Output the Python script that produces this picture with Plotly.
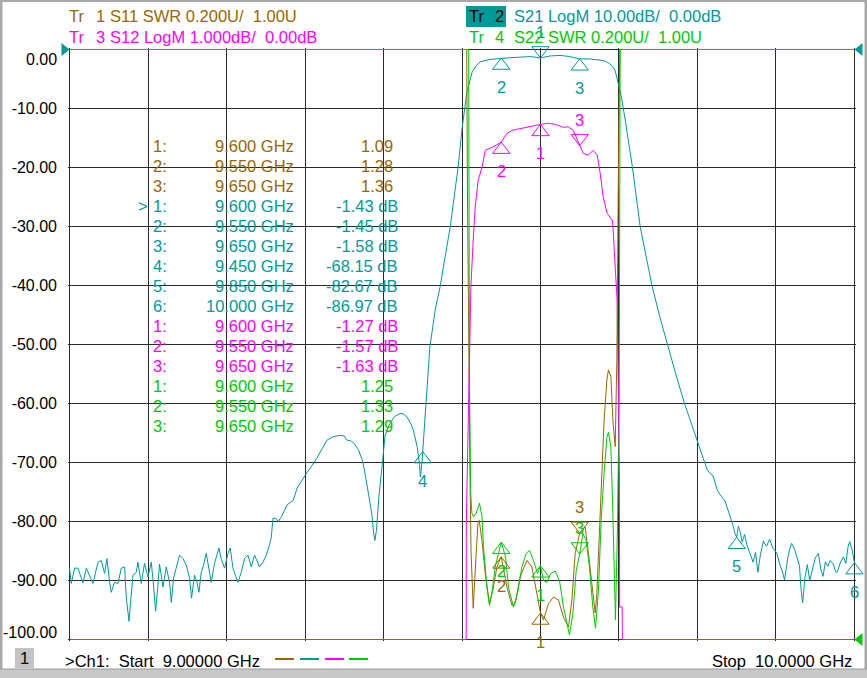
import plotly.graph_objects as go

# page / plot-area geometry (px), margins are whole pixels in plotly
W, H = 867, 678
L, T, PW, PH = 68, 48, 788, 593

BROWN = "#996600"
TEAL = "#009999"
MAGENTA = "#ff00ff"
GREEN = "#00c800"
GRID = "#2a2a2a"
FONT = "Liberation Sans, Arial, sans-serif"
FS = 16.5

# display ranges, padded a hair so the clamped traces sit on the frame
X_RANGE = [8.998, 10.002]
Y_RANGE = [-100.25, 0.25]      # Tr2 S21 LogM 10 dB/div, ref 0 dB at top
SWR_RANGE = [0.995, 3.005]     # Tr1/Tr4 SWR 0.2 U/div, ref 1.00 U at bottom
S12_RANGE = [-10.025, 0.025]   # Tr3 S12 LogM 1 dB/div, ref 0 dB at top
Y_TICKS = [0, -10, -20, -30, -40, -50, -60, -70, -80, -90, -100]

# ---- S21 LogM (dB)
s21_freq = [
    9.0000, 9.0022, 9.0064, 9.0107, 9.0149, 9.0171, 9.0213, 9.0255, 9.0298, 9.0362,
    9.0404, 9.0446, 9.0476, 9.0510, 9.0531, 9.0573, 9.0617, 9.0659, 9.0701, 9.0722,
    9.0757, 9.0777, 9.0808, 9.0850, 9.0871, 9.0913, 9.0955, 9.0999, 9.1041, 9.1070,
    9.1096, 9.1126, 9.1146, 9.1190, 9.1232, 9.1274, 9.1296, 9.1325, 9.1359, 9.1401,
    9.1445, 9.1487, 9.1529, 9.1554, 9.1592, 9.1623, 9.1648, 9.1678, 9.1707, 9.1741,
    9.1783, 9.1805, 9.1847, 9.1903, 9.1932, 9.1975, 9.2018, 9.2047, 9.2082, 9.2124,
    9.2145, 9.2187, 9.2229, 9.2273, 9.2315, 9.2357, 9.2400, 9.2420, 9.2464, 9.2506,
    9.2540, 9.2569, 9.2591, 9.2620, 9.2660, 9.2700, 9.2770, 9.2820, 9.2850, 9.2900,
    9.2960, 9.3020, 9.3090, 9.3150, 9.3220, 9.3280, 9.3360, 9.3450, 9.3500, 9.3530,
    9.3580, 9.3620, 9.3680, 9.3730, 9.3760, 9.3790, 9.3820, 9.3850, 9.3875, 9.3890,
    9.3910, 9.3940, 9.3980, 9.4020, 9.4080, 9.4140, 9.4210, 9.4260, 9.4300, 9.4350,
    9.4380, 9.4410, 9.4430, 9.4460, 9.4470, 9.4490, 9.4500, 9.4520, 9.4550, 9.4590,
    9.4660, 9.4720, 9.4780, 9.4850, 9.4900, 9.4950, 9.5000, 9.5030, 9.5060, 9.5100,
    9.5130, 9.5180, 9.5230, 9.5350, 9.5500, 9.5600, 9.5740, 9.5870, 9.6000, 9.6120,
    9.6250, 9.6370, 9.6500, 9.6620, 9.6760, 9.6830, 9.6880, 9.6920, 9.6950, 9.6990,
    9.7010, 9.7030, 9.7080, 9.7170, 9.7270, 9.7350, 9.7420, 9.7520, 9.7620, 9.7730,
    9.7840, 9.7920, 9.8000, 9.8060, 9.8120, 9.8150, 9.8200, 9.8250, 9.8290, 9.8350,
    9.8410, 9.8450, 9.8480, 9.8500, 9.8520, 9.8540, 9.8570, 9.8600, 9.8630, 9.8670,
    9.8710, 9.8740, 9.8770, 9.8800, 9.8840, 9.8880, 9.8920, 9.8960, 9.9010, 9.9050,
    9.9080, 9.9110, 9.9150, 9.9180, 9.9200, 9.9240, 9.9270, 9.9300, 9.9320, 9.9340,
    9.9370, 9.9400, 9.9430, 9.9470, 9.9500, 9.9540, 9.9570, 9.9600, 9.9630, 9.9660,
    9.9690, 9.9730, 9.9760, 9.9780, 9.9820, 9.9860, 9.9890, 9.9920, 9.9940, 9.9970,
    10.0000,
]
s21_db = [
    -88.0, -90.5, -87.9, -87.9, -89.6, -90.4, -87.9, -89.1, -90.5, -86.9,
    -86.6, -88.8, -86.3, -90.3, -92.0, -90.3, -90.5, -87.9, -87.7, -92.8,
    -96.9, -93.7, -89.1, -88.6, -86.9, -90.5, -87.1, -89.4, -86.9, -90.8,
    -95.2, -90.8, -87.2, -91.1, -87.7, -90.3, -93.7, -89.6, -87.7, -85.7,
    -86.3, -87.4, -89.6, -93.0, -89.1, -90.3, -92.0, -88.6, -87.4, -85.4,
    -88.6, -90.3, -87.1, -84.5, -86.3, -87.9, -85.4, -84.5, -87.9, -89.6,
    -90.3, -88.6, -86.3, -85.7, -87.7, -85.7, -86.9, -87.7, -86.9, -85.7,
    -84.3, -82.8, -79.5, -79.4, -80.0, -79.2, -77.2, -76.6, -76.4, -74.3,
    -73.0, -71.8, -70.5, -69.3, -67.6, -66.2, -65.6, -65.4, -65.5, -66.2,
    -66.3, -66.7, -67.8, -69.6, -71.5, -74.1, -76.5, -78.6, -82.0, -83.2,
    -81.5, -76.0, -70.8, -65.4, -63.4, -62.2, -61.7, -61.8, -62.3, -63.5,
    -64.5, -66.0, -67.4, -70.5, -72.5, -70.0, -68.15, -64.0, -57.7, -50.5,
    -44.0, -40.3, -35.5, -30.1, -25.0, -20.0, -13.5, -10.5, -7.4, -5.3,
    -3.8, -2.8, -2.1, -1.7, -1.45, -1.4, -1.3, -1.2, -1.43, -1.1,
    -1.0, -1.2, -1.58, -1.6, -1.8, -2.0, -2.4, -2.9, -3.5, -5.7,
    -6.5, -8.0, -12.0, -19.8, -30.0, -35.5, -40.0, -45.3, -50.2, -55.3,
    -60.2, -63.3, -66.2, -68.8, -71.1, -71.7, -72.3, -74.6, -75.5, -76.5,
    -78.9, -80.5, -82.1, -82.67, -80.8, -81.5, -83.5, -82.2, -84.0, -85.5,
    -86.9, -85.2, -88.6, -85.8, -83.3, -84.2, -83.0, -84.5, -85.3, -87.3,
    -88.4, -89.9, -86.2, -84.5, -83.7, -84.8, -86.0, -87.5, -91.5, -93.8,
    -89.5, -87.3, -90.0, -87.8, -86.2, -85.4, -88.0, -89.3, -86.8, -87.6,
    -86.6, -87.2, -88.5, -88.6, -87.0, -86.0, -87.1, -84.2, -83.4, -84.8,
    -86.97,
]

# ---- S11 SWR (U)
s11_freq = [
    9.0, 9.506, 9.507, 9.5085, 9.510, 9.5115, 9.5143, 9.5181, 9.5203, 9.5219,
    9.5254, 9.5296, 9.5350, 9.5401, 9.5445, 9.5487, 9.55, 9.5572, 9.5636, 9.5678,
    9.5741, 9.5827, 9.5890, 9.5954, 9.60, 9.6038, 9.6102, 9.6166, 9.6229, 9.6293,
    9.6357, 9.6400, 9.6442, 9.65, 9.6569, 9.6611, 9.6655, 9.6697, 9.6718, 9.6752,
    9.6782, 9.6811, 9.6846, 9.6866, 9.6897, 9.6922, 9.6952, 9.6973, 9.6990, 9.7010,
    10.0,
]
s11_swr = [
    3.0, 3.0, 2.5, 1.95, 1.6, 1.3, 1.106, 1.292, 1.394, 1.404,
    1.336, 1.224, 1.122, 1.178, 1.246, 1.274, 1.28, 1.178, 1.116, 1.122,
    1.212, 1.268, 1.246, 1.156, 1.09, 1.066, 1.122, 1.144, 1.134, 1.076,
    1.042, 1.134, 1.292, 1.36, 1.382, 1.292, 1.178, 1.09, 1.156, 1.36,
    1.586, 1.744, 1.88, 1.914, 1.892, 1.744, 1.654, 1.948, 2.5, 3.0,
    3.0,
]

# ---- S12 LogM (dB)
s12_freq = [
    9.0, 9.5053, 9.5055, 9.5070, 9.5079, 9.5092, 9.5113, 9.5143, 9.5168, 9.5206,
    9.5257, 9.5296, 9.5397, 9.55, 9.5576, 9.5640, 9.5741, 9.5869, 9.60, 9.6090,
    9.6192, 9.6293, 9.6353, 9.6417, 9.65, 9.6545, 9.6608, 9.6672, 9.6723, 9.6761,
    9.6799, 9.6850, 9.6914, 9.6926, 9.6952, 9.6977, 9.7005, 9.7009, 9.7041, 9.7043,
    10.0,
]
s12_db = [
    -10.0, -10.0, -8.0, -7.0, -5.8, -5.26, -4.03, -3.23, -2.67, -2.22,
    -1.99, -1.71, -1.65, -1.57, -1.42, -1.37, -1.34, -1.30, -1.27, -1.25,
    -1.27, -1.32, -1.31, -1.37, -1.63, -1.76, -1.79, -1.71, -1.79, -2.10,
    -2.50, -2.78, -2.89, -3.06, -3.69, -4.25, -7.1, -9.45, -9.45, -10.0,
    -10.0,
]

# ---- S22 SWR (U)
s22_freq = [
    9.0, 9.5085, 9.5095, 9.5110, 9.5126, 9.5146, 9.5181, 9.5223, 9.5254, 9.5274,
    9.5317, 9.5350, 9.5381, 9.5423, 9.55, 9.5555, 9.5592, 9.5656, 9.5707, 9.5763,
    9.5818, 9.5860, 9.5911, 9.5962, 9.60, 9.6038, 9.6082, 9.6132, 9.6187, 9.6242,
    9.6293, 9.6369, 9.6413, 9.6455, 9.65, 9.6540, 9.6582, 9.6624, 9.6667, 9.6701,
    9.6739, 9.6773, 9.6811, 9.6846, 9.6866, 9.6897, 9.6922, 9.6943, 9.6955, 9.6981,
    9.7003, 9.7015, 10.0,
]
s22_swr = [
    3.0, 3.0, 1.9, 1.5, 1.428, 1.416, 1.428, 1.462, 1.416, 1.314,
    1.178, 1.116, 1.156, 1.246, 1.33, 1.28, 1.178, 1.11, 1.156, 1.246,
    1.292, 1.302, 1.268, 1.224, 1.25, 1.2, 1.194, 1.224, 1.232, 1.2,
    1.11, 1.016, 1.088, 1.234, 1.29, 1.36, 1.336, 1.246, 1.11, 1.038,
    1.168, 1.404, 1.564, 1.686, 1.702, 1.652, 1.428, 1.21, 1.066, 1.382,
    1.834, 3.0, 3.0,
]

# ---- markers
s11_mk_freq = [9.600, 9.550, 9.650]
s11_mk_val = [1.09, 1.28, 1.36]
s21_mk_freq = [9.600, 9.550, 9.650, 9.450, 9.850, 10.000]
s21_mk_val = [-1.43, -1.45, -1.58, -68.15, -82.67, -86.97]
s12_mk_freq = [9.600, 9.550, 9.650]
s12_mk_val = [-1.27, -1.57, -1.63]
s22_mk_freq = [9.600, 9.550, 9.650]
s22_mk_val = [1.25, 1.33, 1.29]
# which marker triangles point down (label drawn above)
s11_mk_down = [False, False, True]
s21_mk_down = [True, False, False, False, False, False]
s12_mk_down = [False, False, True]
s22_mk_down = [False, False, True]


def xp(px):
    return (px - L) / PW


def yp(py):
    return 1 - (py - T) / PH


def clamp(vals, rng):
    lo, hi = rng[0] + (rng[1] - rng[0]) * 0.25 / 100.5, rng[1] - (rng[1] - rng[0]) * 0.25 / 100.5
    return [min(max(v, lo), hi) for v in vals]


fig = go.Figure()
fig.add_trace(go.Scatter(x=s11_freq, y=clamp(s11_swr, SWR_RANGE), yaxis="y2", mode="lines",
                         line=dict(color=BROWN, width=1)))
fig.add_trace(go.Scatter(x=s21_freq, y=clamp(s21_db, Y_RANGE), yaxis="y", mode="lines",
                         line=dict(color=TEAL, width=1)))
fig.add_trace(go.Scatter(x=s12_freq, y=clamp(s12_db, S12_RANGE), yaxis="y3", mode="lines",
                         line=dict(color=MAGENTA, width=1)))
fig.add_trace(go.Scatter(x=s22_freq, y=clamp(s22_swr, SWR_RANGE), yaxis="y2", mode="lines",
                         line=dict(color=GREEN, width=1)))

annotations = []
MK_SIZE = 15
APEX = MK_SIZE / 2  # px from marker centre to the triangle tip


def add_markers(freqs, vals, down, color, yaxis, rng):
    per_px = (rng[1] - rng[0]) / PH
    ys = [v + APEX * per_px if d else v - APEX * per_px for v, d in zip(vals, down)]
    syms = ["triangle-down-open" if d else "triangle-up-open" for d in down]
    fig.add_trace(go.Scatter(x=freqs, y=ys, yaxis=yaxis, mode="markers", cliponaxis=False,
                             marker=dict(symbol=syms, size=MK_SIZE, color=color,
                                         line=dict(color=color, width=1))))
    for i, (f, v, d) in enumerate(zip(freqs, vals, down)):
        annotations.append(dict(x=f, y=v, xref="x", yref=yaxis, text=str(i + 1), showarrow=False,
                                yshift=26 if d else -29, font=dict(color=color, size=FS)))


add_markers(s11_mk_freq, s11_mk_val, s11_mk_down, BROWN, "y2", SWR_RANGE)
add_markers(s21_mk_freq, s21_mk_val, s21_mk_down, TEAL, "y", Y_RANGE)
add_markers(s12_mk_freq, s12_mk_val, s12_mk_down, MAGENTA, "y3", S12_RANGE)
add_markers(s22_mk_freq, s22_mk_val, s22_mk_down, GREEN, "y2", SWR_RANGE)


def text(s, x, y, color="black", anchor="left", size=FS):
    annotations.append(dict(x=xp(x), y=yp(y), xref="paper", yref="paper", text=s, showarrow=False,
                            xanchor=anchor, yanchor="middle", font=dict(color=color, size=size)))


# header
text("Tr", 67, 16.5, BROWN); text("1", 94, 16.5, BROWN)
text("S11 SWR 0.200U/\u00a0\u00a01.00U", 108, 16.5, BROWN)
text("Tr", 67, 37, MAGENTA); text("3", 94, 37, MAGENTA)
text("S12 LogM 1.000dB/\u00a0\u00a00.00dB", 108, 37, MAGENTA)
text("Tr", 467, 16.5, "black"); text("2", 493, 16.5, "black")
text("S21 LogM 10.00dB/\u00a0\u00a00.00dB", 512, 16.5, TEAL)
text("Tr", 467, 37, GREEN); text("4", 493, 37, GREEN)
text("S22 SWR 0.200U/\u00a0\u00a01.00U", 512, 37, GREEN)

# marker table
rows = []
for f, v in zip(s11_mk_freq, s11_mk_val):
    rows.append((BROWN, f"{f:.3f} GHz", f"{v:.2f}"))
for f, v in zip(s21_mk_freq, s21_mk_val):
    rows.append((TEAL, f"{f:.3f} GHz", f"{v:.2f} dB"))
for f, v in zip(s12_mk_freq, s12_mk_val):
    rows.append((MAGENTA, f"{f:.3f} GHz", f"{v:.2f} dB"))
for f, v in zip(s22_mk_freq, s22_mk_val):
    rows.append((GREEN, f"{f:.3f} GHz", f"{v:.2f}"))
counts = [len(s11_mk_freq), len(s21_mk_freq), len(s12_mk_freq), len(s22_mk_freq)]
nums = [n + 1 for c in counts for n in range(c)]
for i, ((color, fs, vs), n) in enumerate(zip(rows, nums)):
    y = 146 + 20 * i
    text(f"{n}:", 151, y, color)
    text(fs, 296, y, color, "right")
    text(vs, 400 if vs.endswith("dB") else 395, y, color, "right")
text(">", 136, 146 + 20 * 3, TEAL)

# y labels at the frame edges sit inside the frame
text("0.00", 59, 59, "black", "right", 16)
text("-100.00", 59, 632, "black", "right", 16)

# status bar
text("1", 24.5, 658, "black", "center")
text(">Ch1:\u00a0\u00a0Start\u00a0\u00a09.00000 GHz", 63, 661)
text("Stop\u00a0\u00a010.0000 GHz", 854, 661, "black", "right")


def path(pts):
    return "M" + " L".join(f"{xp(a):.5f},{yp(b):.5f}" for a, b in pts) + " Z"


def rect(x0, y0, x1, y1, color):
    return dict(type="rect", xref="paper", yref="paper", x0=xp(x0), x1=xp(x1), y0=yp(y1), y1=yp(y0),
                fillcolor=color, line=dict(width=0), layer="above")


shapes = [
    dict(type="path", xref="paper", yref="paper", path=path([(61.5, 43), (61.5, 56), (69.5, 49.5)]),
         fillcolor=TEAL, line=dict(width=0)),
    dict(type="path", xref="paper", yref="paper", path=path([(862.5, 43), (862.5, 56), (854.5, 49.5)]),
         fillcolor=TEAL, line=dict(width=0)),
    dict(type="path", xref="paper", yref="paper", path=path([(862.5, 633), (862.5, 646), (854.5, 639.5)]),
         fillcolor=GREEN, line=dict(width=0)),
    rect(466, 6, 506, 27, TEAL),
    rect(15, 648, 34, 668, "#c4c4c4"),
    rect(0, 0, 2.5, H, "#a8a8a8"),
    rect(0, 0, W, 2, "#a8a8a8"),
    rect(864.5, 0, W, H, "#a8a8a8"),
    rect(0, 669, W, H, "#c8c8c8"),
    rect(0, 668.5, W, 669.5, "#9a9a9a"),
]
for x0, color in zip([275, 300, 325, 349], [BROWN, TEAL, MAGENTA, GREEN]):
    shapes.append(dict(type="line", xref="paper", yref="paper", x0=xp(x0), x1=xp(x0 + 19),
                       y0=yp(659), y1=yp(659), line=dict(color=color, width=2)))

fig.update_layout(
    width=W, height=H, margin=dict(l=L, r=W - L - PW, t=T, b=H - T - PH, pad=0),
    paper_bgcolor="white", plot_bgcolor="white", showlegend=False, hovermode=False,
    font=dict(family=FONT, size=FS, color="black"),
    xaxis=dict(range=X_RANGE, tick0=9.0, dtick=0.1, showgrid=True, gridcolor=GRID, gridwidth=1,
               showticklabels=False, zeroline=False, showline=False, ticks=""),
    yaxis=dict(range=Y_RANGE, tickvals=Y_TICKS,
               ticktext=["" if v in (0, -100) else f"{v:.2f}" for v in Y_TICKS],
               showgrid=True, gridcolor=GRID, gridwidth=1, zeroline=False, showline=False,
               ticks="", ticklabelstandoff=10, tickfont=dict(size=16, color="black")),
    yaxis2=dict(range=SWR_RANGE, overlaying="y", visible=False),
    yaxis3=dict(range=S12_RANGE, overlaying="y", visible=False),
    annotations=annotations, shapes=shapes,
)

fig.write_html("out.html", config={"displayModeBar": False},
               post_script="document.body.style.margin='0px';")
